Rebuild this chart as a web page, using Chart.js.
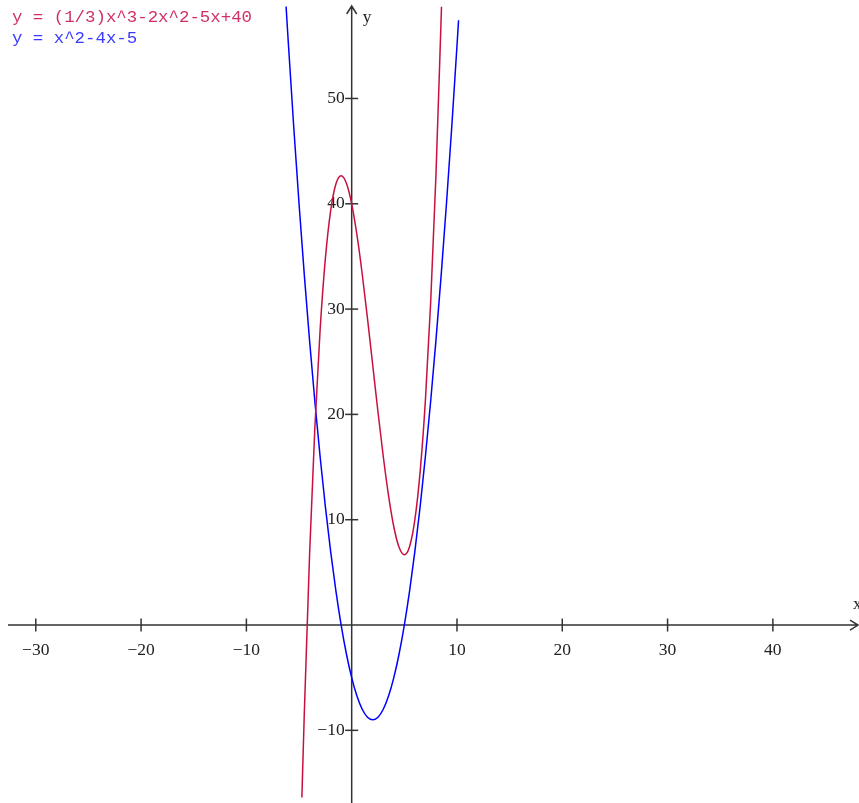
<!DOCTYPE html>
<html lang="en">
<head>
    <meta charset="UTF-8">
    <title>Function plot</title>
    <script src="https://cdn.jsdelivr.net/npm/chart.js@4.4.0/dist/chart.umd.min.js"></script>
    <style>
        html, body { margin: 0; padding: 0; background: #fff; }
        #wrap { position: relative; width: 859px; height: 803px; }
        .legend { position: absolute; left: 12px; font-family: 'Liberation Mono', 'DejaVu Sans Mono', monospace; font-size: 17.4px; line-height: 21px; white-space: pre; }
    </style>
</head>
<body>
    <div id="wrap">
        <canvas id="plot"></canvas>
        <div class="legend" style="top: 7px; color: #d0306a;">y = (1/3)x^3-2x^2-5x+40</div>
        <div class="legend" style="top: 28px; color: #3a3aff;">y = x^2-4x-5</div>
    </div>

    <script>
        // cubic  y = (1/3)x^3 - 2x^2 - 5x + 40
        const cubicX = [-4.73, -4.5, -4, -3.5, -3, -2.5, -2, -1.5, -1, -0.5, 0, 0.5, 1, 1.5, 2, 2.5, 3, 3.5, 4, 4.5, 5, 5.5, 6, 6.5, 7, 7.5, 8, 8.53];
        const cubicY = [-16.37, -8.375, 6.667, 18.708, 28, 34.792, 39.333, 41.875, 42.667, 41.958, 40, 37.042, 33.333, 29.125, 24.667, 20.208, 16, 12.292, 9.333, 7.375, 6.667, 7.458, 10, 14.542, 21.333, 30.625, 42.667, 58.7];

        // parabola  y = x^2 - 4x - 5
        const parabX = [-6.23, -6, -5.5, -5, -4.5, -4, -3.5, -3, -2.5, -2, -1.5, -1, -0.5, 0, 0.5, 1, 1.5, 2, 2.5, 3, 3.5, 4, 4.5, 5, 5.5, 6, 6.5, 7, 7.5, 8, 8.5, 9, 9.5, 10, 10.15];
        const parabY = [58.73, 55, 47.25, 40, 33.25, 27, 21.25, 16, 11.25, 7, 3.25, 0, -2.75, -5, -6.75, -8, -8.75, -9, -8.75, -8, -6.75, -5, -2.75, 0, 3.25, 7, 11.25, 16, 21.25, 27, 33.25, 40, 47.25, 55, 57.42];

        const xTicks = [-30, -20, -10, 10, 20, 30, 40];
        const yTicks = [-10, 10, 20, 30, 40, 50];

        const toPoints = (xs, ys) => xs.map((x, i) => ({ x: x, y: ys[i] }));

        // draws the crossing axes with arrows, ticks and labels
        const axesPlugin = {
            id: 'crossAxes',
            beforeDatasetsDraw(chart) {
                const ctx = chart.ctx;
                const sx = chart.scales.x, sy = chart.scales.y;
                const ox = sx.getPixelForValue(0), oy = sy.getPixelForValue(0);
                const w = chart.width, h = chart.height;

                ctx.save();
                ctx.strokeStyle = '#333';
                ctx.lineWidth = 1.5;
                ctx.beginPath();
                ctx.moveTo(8, oy); ctx.lineTo(w - 1, oy);
                ctx.moveTo(ox, h); ctx.lineTo(ox, 6);
                // arrow heads
                ctx.moveTo(w - 9, oy - 5); ctx.lineTo(w - 1, oy); ctx.lineTo(w - 9, oy + 5);
                ctx.moveTo(ox - 5, 14); ctx.lineTo(ox, 6); ctx.lineTo(ox + 5, 14);
                ctx.stroke();

                ctx.fillStyle = '#222';
                ctx.font = '17.5px "Liberation Serif", "Times New Roman", serif';

                ctx.textAlign = 'center';
                ctx.textBaseline = 'middle';
                xTicks.forEach(v => {
                    const px = sx.getPixelForValue(v);
                    ctx.beginPath();
                    ctx.moveTo(px, oy - 6.5); ctx.lineTo(px, oy + 6.5);
                    ctx.stroke();
                    ctx.fillText(String(v).replace('-', '\u2212'), px, oy + 25);
                });

                ctx.textAlign = 'right';
                yTicks.forEach(v => {
                    const py = sy.getPixelForValue(v);
                    ctx.beginPath();
                    ctx.moveTo(ox - 6.5, py); ctx.lineTo(ox + 6.5, py);
                    ctx.stroke();
                    ctx.fillText(String(v).replace('-', '\u2212'), ox - 7, py);
                });

                ctx.textAlign = 'left';
                ctx.fillText('x', w - 6, oy - 21);
                ctx.fillText('y', ox + 11, 17);
                ctx.restore();
            }
        };

        new Chart(document.getElementById('plot'), {
            type: 'scatter',
            data: {
                datasets: [
                    {
                        label: 'y = (1/3)x^3-2x^2-5x+40',
                        data: toPoints(cubicX, cubicY),
                        showLine: true,
                        borderColor: 'rgb(200, 16, 64)',
                        borderWidth: 1.5,
                        pointRadius: 0,
                        cubicInterpolationMode: 'monotone'
                    },
                    {
                        label: 'y = x^2-4x-5',
                        data: toPoints(parabX, parabY),
                        showLine: true,
                        borderColor: '#0000ff',
                        borderWidth: 1.5,
                        pointRadius: 0,
                        cubicInterpolationMode: 'monotone'
                    }
                ]
            },
            options: {
                responsive: true,
                maintainAspectRatio: false,
                animation: false,
                layout: { padding: 0 },
                plugins: { legend: { display: false }, tooltip: { enabled: false } },
                scales: {
                    x: { type: 'linear', min: -33.40, max: 48.18, display: false },
                    y: { type: 'linear', min: -16.90, max: 59.35, display: false }
                }
            },
            plugins: [axesPlugin]
        });
    </script>
</body>
</html>
